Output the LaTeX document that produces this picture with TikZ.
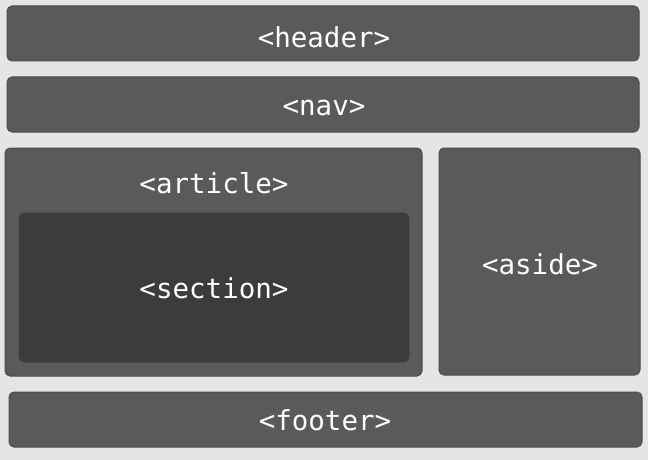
\documentclass[tikz,border=0pt]{standalone}
\usepackage{fontspec}
\setmainfont{DejaVu Sans Mono}
\definecolor{bg}{HTML}{E5E5E5}
\definecolor{boxfill}{HTML}{5A5A5A}
\definecolor{boxedge}{HTML}{4C4C4C}
\definecolor{secfill}{HTML}{3C3C3C}
\begin{document}
\begin{tikzpicture}[x=1pt,y=-1pt,
  region/.style={fill=boxfill,draw=boxedge,line width=1pt,rounded corners=5pt},
  inner/.style={fill=secfill,draw=secfill,line width=0.6pt,rounded corners=5pt},
  tag/.style={text=white,font=\fontsize{27.5}{30}\selectfont,inner sep=0pt,anchor=center}]
\fill[bg] (0,0) rectangle (648,460);
\useasboundingbox (0,0) rectangle (648,460);
\draw[region] (7,6) rectangle (639,61);
\draw[region] (7,77) rectangle (639,132);
\draw[region] (5,148) rectangle (422,376);
\draw[inner] (19,213) rectangle (409,362);
\draw[region] (439,148) rectangle (640,375);
\draw[region] (9,392) rectangle (642,447);
\node[tag] (header) at (324,37) {<header>};
\node[tag] (nav) at (324,108) {<nav>};
\node[tag] (article) at (214,183) {<article>};
\node[tag] (section) at (214,288) {<section>};
\node[tag] (aside) at (540,264) {<aside>};
\node[tag] (footer) at (325,420) {<footer>};
\end{tikzpicture}
\end{document}
